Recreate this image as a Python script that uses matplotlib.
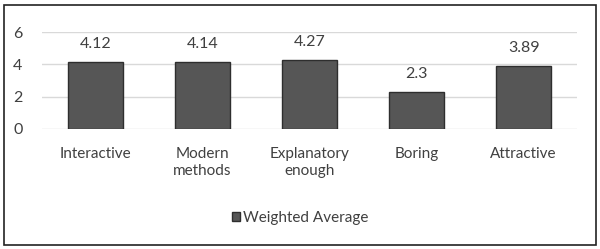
import matplotlib
matplotlib.use("Agg")
import matplotlib.pyplot as plt
from matplotlib.patches import Rectangle

categories = ["Interactive", "Modern\nmethods", "Explanatory\nenough", "Boring", "Attractive"]
values = [4.12, 4.14, 4.27, 2.3, 3.89]
value_labels = ["4.12", "4.14", "4.27", "2.3", "3.89"]
series_name = "Weighted Average"

plt.rcParams['font.family'] = ['Lato', 'DejaVu Sans']

fig = plt.figure(figsize=(6.0, 2.49), dpi=100)
ax = fig.add_axes([0.07, 0.482, 0.892, 0.389])

x = list(range(len(categories)))
bars = ax.bar(x, values, width=0.51, color='#565656', edgecolor='#2e2e2e',
              linewidth=1.0, label=series_name, zorder=3)

for xi, v, lab in zip(x, values, value_labels):
    ax.annotate(lab, (xi, v), xytext=(0, 8), textcoords='offset points',
                ha='center', va='bottom', fontsize=11.5, color='#404040')

ax.set_xlim(-0.5, len(categories) - 0.5)
ax.set_ylim(0, 6)
ax.set_yticks([0, 2, 4, 6])
ax.yaxis.grid(True, color='#d9d9d9', linewidth=1.0, zorder=0)
ax.set_xticks(x)
ax.set_xticklabels(categories, fontsize=11, color='#404040', linespacing=1.25)
ax.tick_params(axis='y', labelsize=11.5, colors='#404040', length=0, pad=14)
ax.tick_params(axis='x', length=0, pad=13)
for s in ax.spines.values():
    s.set_visible(False)

leg = fig.legend(handles=[bars], labels=[series_name], loc='center',
                 bbox_to_anchor=(0.5, 0.125), frameon=False, fontsize=11,
                 handlelength=0.5, handleheight=0.5, handletextpad=0.2)
for t in leg.get_texts():
    t.set_color('#404040')

fig.patches.append(Rectangle((4 / 600, 4 / 249), 592 / 600, 240 / 249,
                             transform=fig.transFigure, fill=False,
                             edgecolor='#222222', linewidth=1.2))

fig.savefig("out.png", dpi=100)
